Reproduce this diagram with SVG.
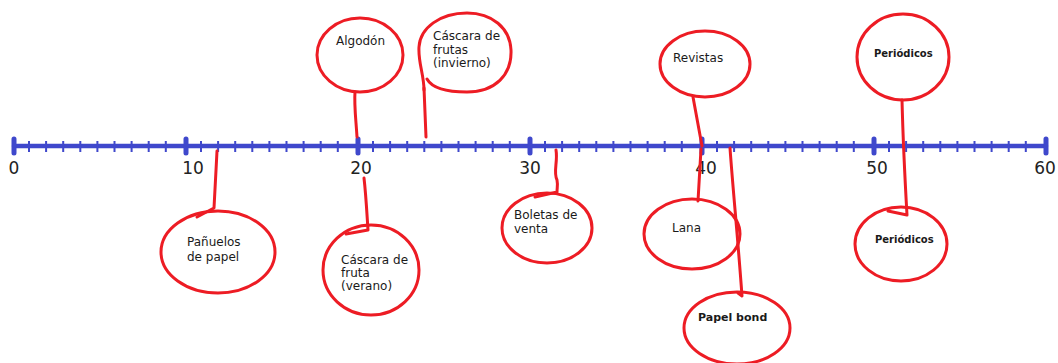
<svg xmlns="http://www.w3.org/2000/svg" width="1058" height="363" viewBox="0 0 1058 363">
<style>
  .axis{stroke:#3f48cc;stroke-width:4.5;fill:none;stroke-linecap:round}
  .major{stroke:#3f48cc;stroke-width:5;stroke-linecap:round;fill:none}
  .minor{stroke:#3f48cc;stroke-width:2;fill:none}
  .num{font-family:"DejaVu Sans",sans-serif;font-size:17px;fill:#222;text-anchor:middle}
  .ring{fill:none;stroke:#ed1c24;stroke-width:3;stroke-linecap:round;stroke-linejoin:round}
  .conn{fill:none;stroke:#ed1c24;stroke-width:3;stroke-linecap:round;stroke-linejoin:round}
  .lbl{font-family:"DejaVu Sans",sans-serif;font-size:12px;fill:#1a1a1a}
  .blbl{font-family:"DejaVu Sans",sans-serif;font-weight:bold;fill:#1a1a1a}
</style>
<rect width="1058" height="363" fill="#ffffff"/>
<g id="axis">
  <line class="axis" x1="14" y1="146" x2="1046" y2="146"/>
  <path class="minor" d="M29,141V152M46.1,141V152M63.2,141V152M80.3,141V152M97.4,141V152M114.5,141V152M131.6,141V152M148.7,141V152M165.8,141V152
  M201,141V152M218.1,141V152M235.2,141V152M252.3,141V152M269.4,141V152M286.5,141V152M303.6,141V152M320.7,141V152M337.8,141V152
  M373,141V152M390.1,141V152M407.2,141V152M424.3,141V152M441.4,141V152M458.5,141V152M475.6,141V152M492.7,141V152M509.8,141V152
  M545,141V152M562.1,141V152M579.2,141V152M596.3,141V152M613.4,141V152M630.5,141V152M647.6,141V152M664.7,141V152M681.8,141V152
  M717,141V152M734.1,141V152M751.2,141V152M768.3,141V152M785.4,141V152M802.5,141V152M819.6,141V152M836.7,141V152M853.8,141V152
  M889,141V152M906.1,141V152M923.2,141V152M940.3,141V152M957.4,141V152M974.5,141V152M991.6,141V152M1008.7,141V152M1025.8,141V152"/>
  <path class="major" d="M14,139V153M186,139V153M358,139V153M530,139V153M702,139V153M874,139V153M1046,139V153"/>
  <text class="num" x="14" y="174">0</text>
  <text class="num" x="193" y="174">10</text>
  <text class="num" x="361" y="174">20</text>
  <text class="num" x="530" y="174">30</text>
  <text class="num" x="706" y="174">40</text>
  <text class="num" x="877" y="174">50</text>
  <text class="num" x="1045" y="174">60</text>
</g>
<g id="connectors">
  <path class="conn" d="M217,151 C216,170 215,190 214,208 L197,217"/>
  <path class="conn" d="M364,178 C366,195 367,215 368,230 L346,234"/>
  <path class="conn" d="M355,92 C354,105 356,120 357,137"/>
  <path class="conn" d="M424,88 L426,137"/>
  <path class="conn" d="M556,150 C558,162 553,172 557,180 C558,185 557,188 557,192 L535,197"/>
  <path class="conn" d="M701,149 L698,201"/>
  <path class="conn" d="M693,97 L702,146"/>
  <path class="conn" d="M730,148 C733,190 738,240 742,296 L738,293"/>
  <path class="conn" d="M902,100 C903,140 905,180 907,215 L888,211"/>
</g>
<g id="node-panuelos">
  <ellipse class="ring" cx="218" cy="252" rx="57" ry="41"/>
  <text class="lbl" x="187" y="246">Pañuelos</text>
  <text class="lbl" x="187" y="261">de papel</text>
</g>
<g id="node-cascara-verano">
  <ellipse class="ring" cx="371" cy="270" rx="48" ry="45"/>
  <text class="lbl" x="341" y="264">Cáscara de</text>
  <text class="lbl" x="341" y="277">fruta</text>
  <text class="lbl" x="341" y="290">(verano)</text>
</g>
<g id="node-algodon">
  <ellipse class="ring" cx="360" cy="55" rx="43" ry="37"/>
  <text class="lbl" x="336" y="45">Algodón</text>
</g>
<g id="node-cascara-invierno">
  <path class="ring" d="M427,79 C432,88 445,92 467,92 C495,92 512,75 511,50 C510,28 492,13 467,13 C440,13 420,28 419,47 C418,62 424,75 424,90"/>
  <text class="lbl" x="433" y="40">Cáscara de</text>
  <text class="lbl" x="433" y="54">frutas</text>
  <text class="lbl" x="433" y="67">(invierno)</text>
</g>
<g id="node-boletas">
  <ellipse class="ring" cx="547" cy="228" rx="45" ry="35"/>
  <text class="lbl" x="514" y="219">Boletas de</text>
  <text class="lbl" x="514" y="233">venta</text>
</g>
<g id="node-lana">
  <ellipse class="ring" cx="692" cy="234" rx="48" ry="35"/>
  <text class="lbl" x="672" y="232">Lana</text>
</g>
<g id="node-revistas">
  <ellipse class="ring" cx="705" cy="64" rx="45" ry="33"/>
  <text class="lbl" x="673" y="62">Revistas</text>
</g>
<g id="node-papel-bond">
  <ellipse class="ring" cx="737" cy="328" rx="53" ry="36"/>
  <text class="blbl" x="698" y="321" font-size="11">Papel bond</text>
</g>
<g id="node-periodicos-top">
  <ellipse class="ring" cx="903" cy="57" rx="46" ry="43"/>
  <text class="blbl" x="874" y="57" font-size="10">Periódicos</text>
</g>
<g id="node-periodicos-bottom">
  <ellipse class="ring" cx="901" cy="244" rx="46" ry="37"/>
  <text class="blbl" x="875" y="243" font-size="10">Periódicos</text>
</g>
</svg>
